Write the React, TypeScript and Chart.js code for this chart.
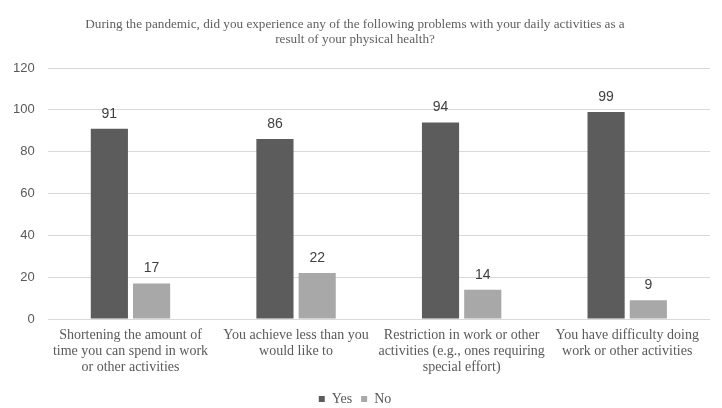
import React, { useEffect, useRef } from "react";
import { Chart, registerables } from "chart.js";

Chart.register(...registerables);

const categories: string[][] = [
  ["Shortening the amount of", "time you can spend in work", "or other activities"],
  ["You achieve less than you", "would like to"],
  ["Restriction in work or other", "activities (e.g., ones requiring", "special effort)"],
  ["You have difficulty doing", "work or other activities"],
];
const yesValues = [91, 86, 94, 99];
const noValues = [17, 22, 14, 9];
const titleLines = [
  "During the pandemic, did you experience any of the following problems with your daily activities as a",
  "result of your physical health?",
];

const valueLabels = {
  id: "valueLabels",
  afterDatasetsDraw(chart: any) {
    const ctx = chart.ctx;
    ctx.save();
    ctx.font = "14px 'Liberation Sans', sans-serif";
    ctx.fillStyle = "#404040";
    ctx.textAlign = "center";
    ctx.textBaseline = "middle";
    chart.data.datasets.forEach((ds: any, i: number) => {
      const meta = chart.getDatasetMeta(i);
      meta.data.forEach((bar: any, j: number) => {
        ctx.fillText(String(ds.data[j]), bar.x, bar.y - 15);
      });
    });
    ctx.restore();
  },
};

export default function App() {
  const ref = useRef<HTMLCanvasElement>(null);
  useEffect(() => {
    document.body.style.margin = "0";
    const chart = new Chart(ref.current!, {
      type: "bar",
      data: {
        labels: categories,
        datasets: [
          { label: "Yes", data: yesValues, backgroundColor: "#5c5c5c", barPercentage: 0.88, categoryPercentage: 0.51 },
          { label: "No", data: noValues, backgroundColor: "#a8a8a8", barPercentage: 0.88, categoryPercentage: 0.51 },
        ],
      },
      options: {
        responsive: false,
        animation: false,
        layout: { padding: { left: 0, right: 12, top: 5, bottom: -8 } },
        plugins: {
          title: {
            display: true,
            text: titleLines,
            color: "#5f5f5f",
            font: { family: "'Liberation Serif', serif", size: 13.2, weight: "normal", lineHeight: "15px" },
            padding: { top: 12, bottom: 21 },
          },
          legend: {
            position: "bottom",
            labels: {
              color: "#595959",
              font: { family: "'Liberation Serif', serif", size: 14 },
              boxWidth: 6,
              boxHeight: 6,
              padding: 9,
            },
          },
          tooltip: { enabled: false },
        },
        scales: {
          x: {
            grid: { display: false, drawTicks: false },
            border: { display: false },
            ticks: {
              color: "#595959",
              font: { family: "'Liberation Serif', serif", size: 14, lineHeight: "16px" },
              maxRotation: 0,
              minRotation: 0,
              autoSkip: false,
              padding: 8,
            },
          },
          y: {
            min: 0,
            max: 120,
            ticks: {
              stepSize: 20,
              color: "#595959",
              font: { family: "'Liberation Sans', sans-serif", size: 13 },
              padding: 13,
            },
            grid: { color: "#d9d9d9", drawTicks: false },
            border: { display: false },
          },
        },
      },
      plugins: [valueLabels],
    });
    return () => chart.destroy();
  }, []);
  return (
    <div style={{ width: 722, height: 408 }}>
      <canvas ref={ref} width={722} height={408} />
    </div>
  );
}
